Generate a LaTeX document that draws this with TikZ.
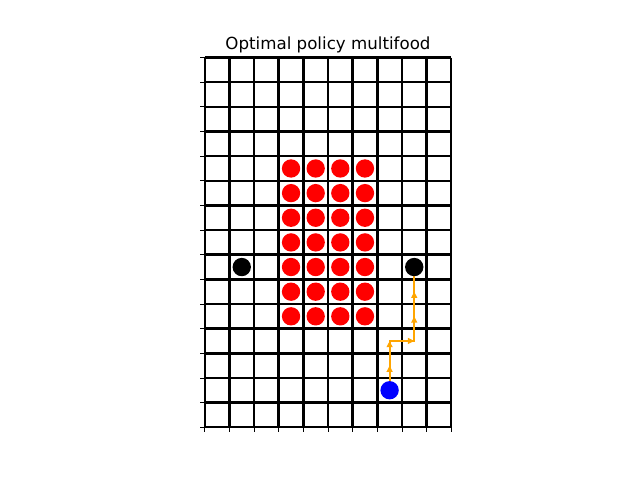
\documentclass[tikz,border=0pt]{standalone}
\usepackage{fontspec}
\setmainfont{DejaVu Sans}
\usetikzlibrary{arrows.meta}
\definecolor{moveorange}{HTML}{FFA500}
\tikzset{
  gridline/.style={line width=1.8pt, black},
  tickline/.style={line width=0.6pt, black},
  dot/.style={circle, inner sep=0pt, minimum size=13.2pt},
  food/.style={dot, fill=red},
  wall/.style={dot, fill=black},
  agent/.style={dot, fill=blue},
  trail/.style={color=moveorange, line width=1.3pt, line join=miter},
  move/.style={trail, -{Triangle[length=4.5pt,width=4.2pt]}}
}
\begin{document}
\begin{tikzpicture}
\useasboundingbox (0,0) rectangle (460.8pt,-345.6pt);
\node[anchor=base, font=\fontsize{12}{14}\selectfont] (title) at (236.16pt,-35.5pt) {Optimal policy multifood};
\begin{scope}[shift={(147.456pt,-41.472pt)}, x=17.7408pt, y=-17.7408pt]
  \foreach \i in {0,...,15} \draw[gridline] (0,\i) -- (10,\i);
  \foreach \i in {0,...,10} \draw[gridline] (\i,0) -- (\i,15);
  \foreach \i in {0,...,15} \draw[tickline] (0,\i) -- ++(-3.5pt,0);
  \foreach \i in {0,...,10} \draw[tickline] (\i,15) -- ++(0,-3.5pt);
  % path cells
  \coordinate (p0) at (7.5,13.5);
  \coordinate (p1) at (7.5,12.5);
  \coordinate (p2) at (7.5,11.5);
  \coordinate (p3) at (8.5,11.5);
  \coordinate (p4) at (8.5,10.5);
  \coordinate (p5) at (8.5,9.5);
  \coordinate (p6) at (8.5,8.5);
  \draw[trail] (p0) -- (p1) -- (p2) -- (p3) -- (p4) -- (p5) -- (p6);
  \draw[move] (p0) -- (p1);
  \draw[move] (p1) -- (p2);
  \draw[move] (p2) -- (p3);
  \draw[move] (p3) -- (p4);
  \draw[move] (p4) -- (p5);
  \draw[move] (p5) -- (p6);
  % food
  \foreach \c in {3,...,6}
    \foreach \r in {4,...,10}
      \node[food] (f-\c-\r) at (\c+0.5,\r+0.5) {};
  \node[wall] (b1) at (1.5,8.5) {};
  \node[wall] (b2) at (p6) {};
  \node[agent] (agent) at (p0) {};
\end{scope}
\end{tikzpicture}
\end{document}
